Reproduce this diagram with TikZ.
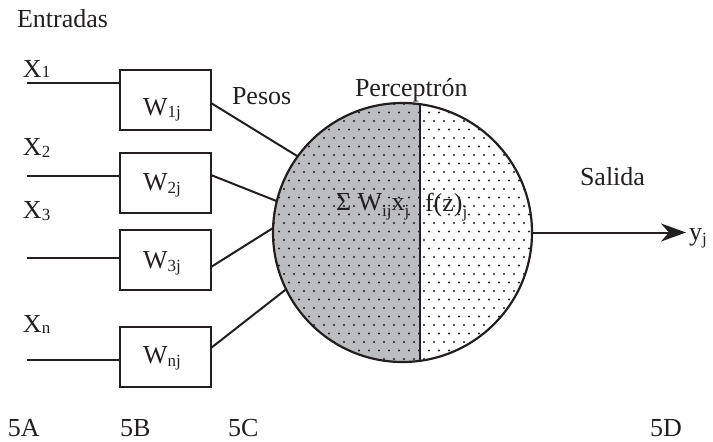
\documentclass[tikz,border=0pt]{standalone}
\usepackage{fontspec}
\setmainfont{Liberation Serif}
\usetikzlibrary{arrows.meta}
\definecolor{ink}{HTML}{231F20}
\definecolor{pgray}{HTML}{BCBDC0}
\newcommand\lsub[2][-3pt]{\raisebox{#1}{\fontsize{17}{17}\selectfont #2}}
\begin{document}
\begin{tikzpicture}[x=1pt,y=-1pt,
  every node/.style={font=\fontsize{26}{30}\selectfont, text=ink, inner sep=0pt, outer sep=0pt},
  wbox/.style={draw=ink, line width=2.2pt, minimum width=91pt, minimum height=60pt},
  wire/.style={draw=ink, line width=2pt},
  lbl/.style={anchor=base west},
  ctr/.style={anchor=base}]
\useasboundingbox (0,0) rectangle (713,442);

% perceptron body
\begin{scope}
  \clip (402.5,232.5) circle[radius=129.5];
  \fill[pgray] (250,90) rectangle (420,380);
  \foreach \r in {0,...,32}{
    \foreach \c in {0,...,27}{
      \fill[ink] ({274+10*\c+5*mod(\r,2)},{104+8.5*\r}) circle[radius=1.1];
    }
  }
  \draw[wire, line width=2.2pt] (420,90) -- (420,380);
\end{scope}
\node[circle, draw=ink, line width=2.2pt, minimum size=259pt] (c) at (402.5,232.5) {};

% weight boxes
\node[wbox] (b1) at (165.5,100) {};
\node[wbox] (b2) at (165.5,183) {};
\node[wbox] (b3) at (165.5,260) {};
\node[wbox] (bn) at (165.5,357) {};
\node[ctr] (t1) at (162,115) {W\lsub[-2pt]{1j}};
\node[ctr] (t2) at (162,190) {W\lsub{2j}};
\node[ctr] (t3) at (162,268) {W\lsub{3j}};
\node[ctr] (tn) at (162,363) {W\lsub{nj}};

% inputs
\coordinate (i1) at (27,83);
\coordinate (i2) at (27,176);
\coordinate (i3) at (27,258);
\coordinate (in) at (27,360);
\draw[wire] (i1) -- (i1 -| b1.west);
\draw[wire] (i2) -- (i2 -| b2.west);
\draw[wire] (i3) -- (i3 -| b3.west);
\draw[wire] (in) -- (in -| bn.west);

% weighted connections
\draw[wire] ([yshift=-3pt]b1.east) -- (c.144.8);
\draw[wire] ([yshift=8pt]b2.east) -- (c.166.8);
\draw[wire] ([yshift=-7pt]b3.east) -- (c.178);
\draw[wire] ([yshift=9pt]bn.east) -- (c.206.3);

% output
\coordinate (o) at (686,235);
\draw[wire, -{Stealth[length=25pt,width=18pt,inset=8pt]}] (c.east) -- (c.east -| o);

% labels
\node[lbl] (ent) at (17,27) {Entradas};
\node[lbl] (x1) at (23,77) {X\lsub[0pt]{1}};
\node[lbl] (x2) at (23,155) {X\lsub[-2pt]{2}};
\node[lbl] (x3) at (23,218) {X\lsub[-2pt]{3}};
\node[lbl] (xn) at (23,332) {X\lsub[-1pt]{n}};
\node[lbl] (pes) at (232,104) {Pesos};
\node[lbl] (per) at (355,96) {Perceptrón};
\node[lbl] (sal) at (580,185) {Salida};
\node[lbl] (yj) at (689,240) {y\lsub[-4pt]{j}};
\node[lbl] (sum) at (336,210) {Σ W\lsub[-6pt]{ij}x\lsub[-6pt]{j}};
\node[lbl] (fz) at (425,211) {f(z)\lsub[-6pt]{j}};
\node[lbl] (l5a) at (8,436) {5A};
\node[lbl] (l5b) at (120,436) {5B};
\node[lbl] (l5c) at (228,436) {5C};
\node[lbl] (l5d) at (650,436) {5D};
\end{tikzpicture}
\end{document}
